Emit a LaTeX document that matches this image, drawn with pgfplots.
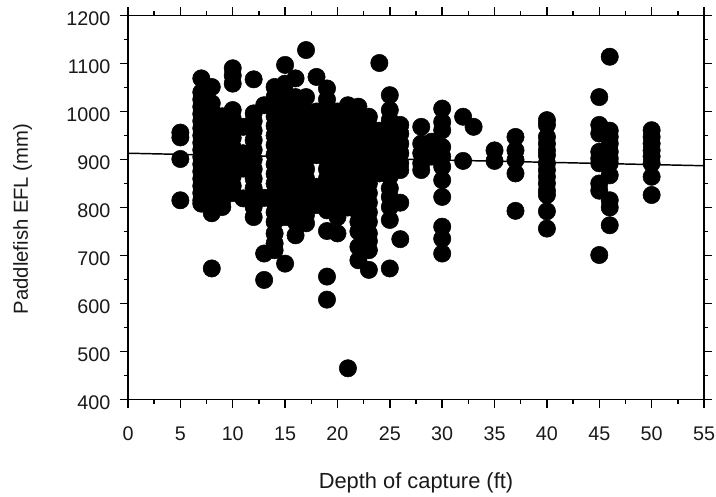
\documentclass[border=0pt]{standalone}
\usepackage{pgfplots}
\pgfplotsset{compat=1.18}
\usepackage{fontspec}
\setmainfont{Liberation Sans}
\begin{document}
\begin{tikzpicture}[x=1pt,y=1pt]
\useasboundingbox (-96,-73.1) rectangle (441,299.6);
\begin{axis}[
  at={(0,0)},anchor=south west,
  width=432pt,height=288pt,scale only axis,
  xmin=0,xmax=55,ymin=400,ymax=1200,
  xtick={0,5,...,55},ytick={400,500,...,1200},
  minor x tick num=1,minor y tick num=1,
  tick align=outside,
  xticklabel pos=bottom,yticklabel pos=left,
  major tick length=6.2pt,minor tick length=3.2pt,
  axis line style={line width=1.2pt},
  every tick/.style={black,line width=1.1pt},
  minor tick style={line width=1.1pt},
  /pgf/number format/assume math mode=true,
  /pgf/number format/1000 sep={},
  tick label style={font=\fontsize{14.8}{16}\selectfont,text=black!90},
  xticklabel style={yshift=-10.5pt},
  yticklabel style={xshift=-3.5pt,yshift=-2.2pt},
  xlabel={Depth of capture (ft)},
  ylabel={Paddlefish EFL (mm)},
  every axis x label/.style={at={(axis description cs:0.5,-0.2174)},anchor=center,font=\fontsize{16.4}{18}\selectfont,text=black!90},
  every axis y label/.style={at={(axis description cs:-0.183,0.47)},anchor=center,rotate=90,font=\fontsize{15.2}{18}\selectfont,text=black!90},
  clip=false,
]
\addplot[black,line width=1.1pt] coordinates {(0,913) (55,887)};
\addplot[only marks,mark=*,mark size=6.5pt,mark options={fill=black,draw=none}] coordinates {
(5,956)(5,946)(5,901)(5,815)
(7,1069)(7,1040)(7,1025)(7,1010)(7,995)(7,980)(7,965)(7,950)(7,935)(7,920)(7,905)(7,890)(7,875)(7,860)(7,845)(7,830)(7,815)(7,808)
(8,1051)(8,1017)(8,1000)(8,985)(8,970)(8,950)(8,930)(8,910)(8,890)(8,870)(8,850)(8,830)(8,810)(8,788)(8,673)
(9,990)(9,970)(9,950)(9,930)(9,910)(9,890)(9,870)(9,850)(9,830)(9,815)(9,801)
(10,1090)(10,1075)(10,1058)(10,1003)(10,985)(10,965)(10,945)(10,925)(10,905)(10,885)(10,865)(10,845)(10,830)
(11,968)(11,913)(11,881)(11,819)
(12,1067)(12,996)(12,980)(12,960)(12,940)(12,920)(12,900)(12,880)(12,860)(12,840)(12,825)(12,801)(12,780)
(13,1013)(13,820)(13,704)(13,649)
(14,1051)(14,1030)(14,1010)(14,990)(14,970)(14,950)(14,930)(14,910)(14,890)(14,870)(14,850)(14,830)(14,810)(14,790)(14,770)(14,746)(14,725)(14,711)
(15,1097)(15,1058)(15,1040)(15,1020)(15,1000)(15,980)(15,960)(15,940)(15,920)(15,900)(15,880)(15,860)(15,840)(15,820)(15,800)(15,780)(15,683)
(16,1069)(16,1030)(16,1010)(16,990)(16,970)(16,950)(16,930)(16,910)(16,890)(16,870)(16,850)(16,830)(16,810)(16,790)(16,770)(16,742)
(17,1128)(17,1030)(17,1000)(17,980)(17,960)(17,940)(17,920)(17,900)(17,880)(17,860)(17,840)(17,820)(17,800)(17,785)(17,767)
(18,1072)(18,1000)(18,980)(18,960)(18,940)(18,925)(18,909)(18,843)(18,825)(18,805)
(19,1048)(19,1025)(19,1000)(19,980)(19,960)(19,940)(19,920)(19,900)(19,880)(19,860)(19,840)(19,820)(19,805)(19,794)(19,751)(19,656)(19,608)
(20,1000)(20,980)(20,960)(20,940)(20,920)(20,900)(20,880)(20,860)(20,840)(20,820)(20,800)(20,780)(20,746)
(21,1013)(21,995)(21,975)(21,955)(21,935)(21,915)(21,895)(21,875)(21,855)(21,835)(21,815)(21,800)(21,465)
(22,1010)(22,990)(22,970)(22,950)(22,930)(22,910)(22,890)(22,870)(22,850)(22,830)(22,810)(22,790)(22,770)(22,750)(22,718)(22,690)
(23,989)(23,970)(23,950)(23,930)(23,910)(23,890)(23,870)(23,850)(23,830)(23,810)(23,790)(23,770)(23,746)(23,730)(23,711)(23,670)
(24,1101)(24,960)(24,940)(24,920)(24,900)(24,885)(24,871)
(25,1034)(25,1003)(25,982)(25,965)(25,945)(25,925)(25,905)(25,885)(25,865)(25,840)(25,822)(25,801)(25,774)(25,673)
(26,972)(26,954)(26,933)(26,913)(26,892)(26,878)(26,810)(26,734)
(28,968)(28,933)(28,913)(28,892)(28,878)
(29,937)(29,919)(29,906)
(30,1006)(30,978)(30,961)(30,926)(30,906)(30,885)(30,857)(30,822)(30,760)(30,735)(30,704)
(32,989)(32,897)
(33,968)
(35,919)(35,897)
(37,947)(37,919)(37,899)(37,871)(37,793)
(40,982)(40,972)(40,947)(40,933)(40,919)(40,909)(40,892)(40,878)(40,864)(40,850)(40,835)(40,826)(40,792)(40,756)
(45,1030)(45,972)(45,954)(45,916)(45,902)(45,892)(45,850)(45,835)(45,701)
(46,1114)(46,960)(46,947)(46,933)(46,916)(46,902)(46,892)(46,867)(46,815)(46,800)(46,763)
(50,961)(50,947)(50,933)(50,919)(50,906)(50,892)(50,864)(50,826)
};
\end{axis}
\end{tikzpicture}
\end{document}
